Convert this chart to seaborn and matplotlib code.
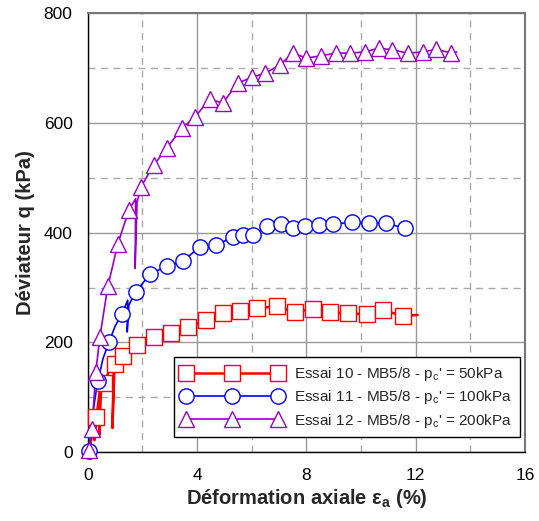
import matplotlib
matplotlib.use("Agg")
import matplotlib.pyplot as plt
import seaborn as sns
from matplotlib.lines import Line2D
from matplotlib.ticker import MultipleLocator

sns.set_style("white")
plt.rcParams["font.family"] = ["Liberation Sans", "DejaVu Sans"]
plt.rcParams["mathtext.fontset"] = "custom"
plt.rcParams["mathtext.rm"] = "Liberation Sans"
plt.rcParams["mathtext.bf"] = "Liberation Sans:bold"

# Essai 10 - courbe (avec cycles de déchargement) et marqueurs
e10_x = [0, 0.12, 0.22, 0.29, 0.24, 0.33, 0.44, 0.42, 0.48, 0.585, 0.8, 0.95, 0.9, 0.97, 0.99,
         1.28, 1.79, 2.41, 3.03, 3.66, 4.31, 4.94, 5.56, 6.18, 6.91, 7.57, 8.23, 8.85, 9.51,
         10.2, 10.82, 11.52, 12.07]
e10_y = [0, 22, 50, 64, 22, 70, 113, 31, 110, 127, 150, 164, 44, 150, 160,
         175, 195, 210, 217, 228, 240, 253, 257, 262, 266, 255, 261, 255, 253,
         251, 259, 248, 250]
e10_mx = [0.29, 0.585, 0.99, 1.28, 1.79, 2.41, 3.03, 3.66, 4.31, 4.94, 5.56, 6.18, 6.91,
          7.57, 8.23, 8.85, 9.51, 10.2, 10.82, 11.52]
e10_my = [64, 127, 160, 175, 195, 210, 217, 228, 240, 253, 257, 262, 266,
          255, 261, 255, 253, 251, 259, 248]

# Essai 11
e11_x = [0, 0.04, 0.15, 0.3, 0.37, 0.55, 0.77, 1.0, 1.24, 1.46, 1.44, 1.5, 1.75, 2.27, 2.89,
         3.47, 4.1, 4.7, 5.3, 5.67, 6.03, 6.55, 7.06, 7.5, 7.93, 8.45, 8.96, 9.65,
         10.3, 10.93, 11.6]
e11_y = [0, 2, 60, 110, 129, 170, 200, 230, 251, 277, 219, 268, 292, 324, 339,
         348, 374, 377, 392, 395, 395, 412, 415, 408, 412, 414, 415, 419,
         417, 417, 408]
e11_mx = [0.04, 0.37, 0.77, 1.24, 1.75, 2.27, 2.89, 3.47, 4.1, 4.7, 5.3, 5.67, 6.03,
          6.55, 7.06, 7.5, 7.93, 8.45, 8.96, 9.65, 10.3, 10.93, 11.6]
e11_my = [2, 129, 200, 251, 292, 324, 339, 348, 374, 377, 392, 395, 395,
          412, 415, 408, 412, 414, 415, 419, 417, 417, 408]

# Essai 12
e12_x = [0, 0.04, 0.15, 0.29, 0.44, 0.73, 1.1, 1.5, 1.75, 1.73, 1.8, 1.94, 2.41, 2.89,
         3.44, 3.91, 4.46, 4.94, 5.48, 6.0, 6.47, 7.02, 7.5, 8.0, 8.52, 9.07, 9.58,
         10.13, 10.64, 11.15, 11.7, 12.25, 12.76, 13.3, 13.5]
e12_y = [0, 4, 42, 146, 210, 302, 380, 441, 462, 335, 455, 483, 523, 554,
         590, 610, 643, 636, 672, 683, 690, 705, 727, 718, 722, 727, 727,
         729, 736, 733, 727, 729, 734, 727, 729]
e12_mx = [0.04, 0.15, 0.29, 0.44, 0.73, 1.1, 1.5, 1.94, 2.41, 2.89, 3.44, 3.91, 4.46,
          4.94, 5.48, 6.0, 6.47, 7.02, 7.5, 8.0, 8.52, 9.07, 9.58, 10.13, 10.64,
          11.15, 11.7, 12.25, 12.76, 13.3]
e12_my = [4, 42, 146, 210, 302, 380, 441, 483, 523, 554, 590, 610, 643,
          636, 672, 683, 690, 705, 727, 718, 722, 727, 727, 729, 736,
          733, 727, 729, 734, 727]

labels = ["Essai 10 - MB5/8 - p$_\\mathregular{c}$' = 50kPa",
          "Essai 11 - MB5/8 - p$_\\mathregular{c}$' = 100kPa",
          "Essai 12 - MB5/8 - p$_\\mathregular{c}$' = 200kPa"]

series = [
    (e10_x, e10_y, e10_mx, e10_my, "#ff0000", "s", 1.8),
    (e11_x, e11_y, e11_mx, e11_my, "#0000ff", "o", 1.2),
    (e12_x, e12_y, e12_mx, e12_my, "#9900cc", "^", 1.2),
]

fig = plt.figure(figsize=(5.39, 5.21), dpi=100)
ax = fig.add_axes([0.163, 0.132, 0.811, 0.843])

handles = []
for (lx, ly, mx, my, col, mk, lw), lab in zip(series, labels):
    sns.lineplot(x=lx, y=ly, sort=False, estimator=None, color=col, lw=lw, ax=ax, zorder=3)
    sns.lineplot(x=mx, y=my, sort=False, estimator=None, lw=0, marker=mk, markersize=11,
                 markerfacecolor="white", markeredgecolor=col, markeredgewidth=1.0,
                 ax=ax, zorder=4, clip_on=False)
    handles.append(Line2D([], [], color=col, lw=lw, marker=mk, markersize=11,
                          markerfacecolor="white", markeredgecolor=col, markeredgewidth=1.0))

ax.set_xlim(0, 16)
ax.set_ylim(0, 800)
ax.xaxis.set_major_locator(MultipleLocator(4))
ax.xaxis.set_minor_locator(MultipleLocator(2))
ax.yaxis.set_major_locator(MultipleLocator(200))
ax.yaxis.set_minor_locator(MultipleLocator(100))
ax.grid(which="major", color="#999999", lw=1.0, ls="-")
ax.grid(which="minor", color="#aaaaaa", lw=1.0, ls=(0, (5, 4)))
ax.set_axisbelow(True)
ax.tick_params(which="major", direction="out", length=6, width=1, labelsize=12.5,
               colors="black", pad=5)
ax.tick_params(which="minor", direction="in", length=4, width=1)

for s in ["left", "bottom"]:
    ax.spines[s].set_color("black")
    ax.spines[s].set_linewidth(1.0)
for s in ["top", "right"]:
    ax.spines[s].set_color("#777777")
    ax.spines[s].set_linewidth(1.5)

ax.set_xlabel("Déformation axiale ε$_\\mathregular{a}$ (%)", fontsize=14.5, fontweight="bold",
              labelpad=3)
ax.set_ylabel("Déviateur q (kPa)", fontsize=14.5, fontweight="bold", labelpad=6)

leg = ax.legend(handles, labels, loc="lower right", bbox_to_anchor=(0.989, 0.034),
                fontsize=11, numpoints=3, handlelength=6.6, frameon=True, fancybox=False,
                borderpad=0.5, labelspacing=0.35, handletextpad=0.8, borderaxespad=0)
leg.get_frame().set_edgecolor("black")
leg.get_frame().set_linewidth(1.0)
leg.get_frame().set_alpha(1)
leg.set_zorder(10)

fig.savefig("out.png", dpi=100)
